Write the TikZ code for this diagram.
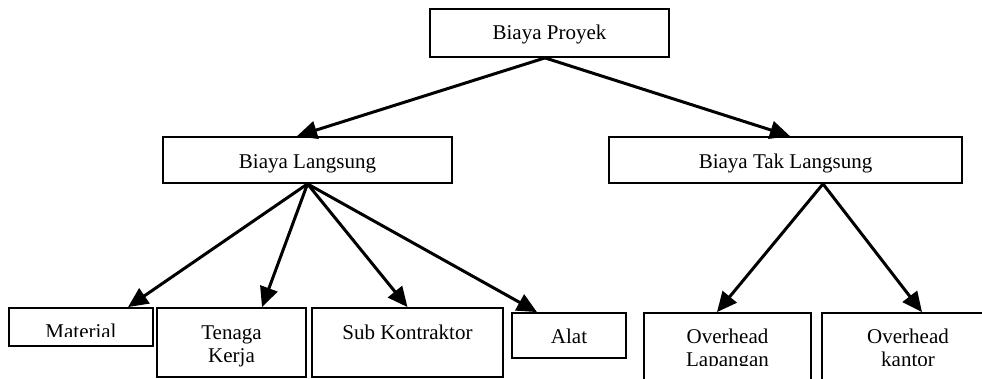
\documentclass[tikz,border=0pt]{standalone}
\usepackage{fontspec}
\setmainfont{Liberation Serif}
\usetikzlibrary{arrows.meta}
\begin{document}
\begin{tikzpicture}[x=1pt,y=-1pt,
  box/.style={draw=black,line width=1.8pt,rectangle,inner sep=0pt},
  lbl/.style={inner sep=0pt,align=center,anchor=base,font=\fontsize{21}{23.5}\selectfont},
  conn/.style={line width=3pt,-{Triangle[length=20pt,width=18pt]}}]
\clip (0,0) rectangle (982,378);
\fill[white] (0,0) rectangle (982,378);
% boxes
\node[box,minimum width=239pt,minimum height=48pt] (proyek) at (549.5,33) {};
\node[box,minimum width=289pt,minimum height=46pt] (lang) at (307.5,160) {};
\node[box,minimum width=353pt,minimum height=46pt] (tak) at (785.5,160) {};
\node[box,minimum width=144pt,minimum height=38pt] (mat) at (81,327) {};
\node[box,minimum width=149pt,minimum height=69pt] (ten) at (231.5,342.5) {};
\node[box,minimum width=191pt,minimum height=69pt] (sub) at (407.5,342.5) {};
\node[box,minimum width=114pt,minimum height=45pt] (alat) at (569,335.5) {};
\node[box,minimum width=167pt,minimum height=80pt] (ovl) at (727.5,353) {};
\node[box,minimum width=172pt,minimum height=80pt] (ovk) at (908,353) {};
% labels
\node[lbl] (tproyek) at (549.5,39) {Biaya Proyek};
\node[lbl] (tlang) at (307.5,168) {Biaya Langsung};
\node[lbl] (ttak) at (785.5,168) {Biaya Tak Langsung};
\begin{scope}
\clip (9,308) rectangle (153,336);
\node[lbl] (tmat) at (81,338) {Material};
\end{scope}
\begin{scope}
\clip (157,308) rectangle (306,373);
\node[lbl] (tten) at (231.5,362.5) {Tenaga\\Kerja};
\end{scope}
\node[lbl] (tsub) at (407.5,339) {Sub Kontraktor};
\node[lbl] (talat) at (569,343) {Alat};
\begin{scope}
\clip (644,313) rectangle (811,365);
\node[lbl] (tovl) at (727.5,366.5) {Overhead\\Lapangan};
\end{scope}
\begin{scope}
\clip (822,313) rectangle (994,365);
\node[lbl] (tovk) at (908,366.5) {Overhead\\kantor};
\end{scope}
% connectors
\draw[conn] ([xshift=-4.5pt]proyek.south) -- ([xshift=-10.5pt]lang.north);
\draw[conn] ([xshift=-4.5pt]proyek.south) -- ([xshift=4.5pt]tak.north);
\draw[conn] (lang.south) -- ([xshift=47pt]mat.north);
\draw[conn] (lang.south) -- ([xshift=30.5pt]ten.north);
\draw[conn] (lang.south) -- (sub.north);
\draw[conn] (lang.south) -- ([xshift=-32pt]alat.north);
\draw[conn] ([xshift=37.5pt]tak.south) -- ([xshift=-10.5pt]ovl.north);
\draw[conn] ([xshift=37.5pt]tak.south) -- ([xshift=14pt]ovk.north);
\end{tikzpicture}
\end{document}
